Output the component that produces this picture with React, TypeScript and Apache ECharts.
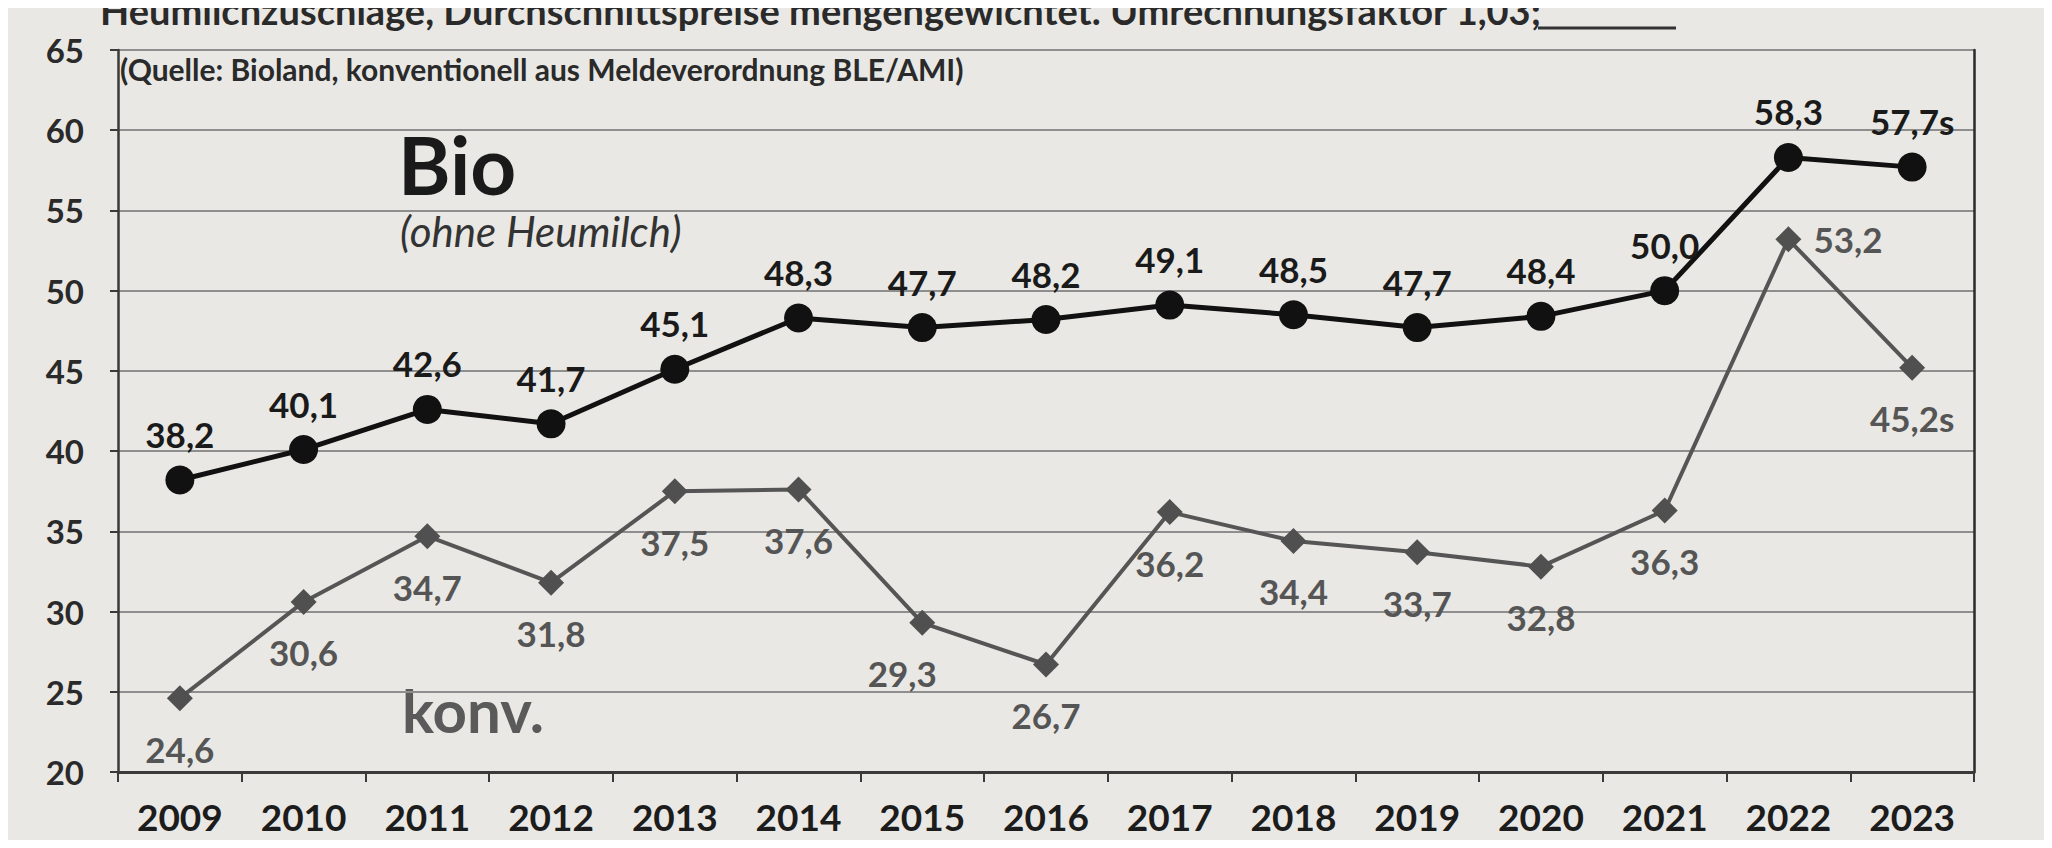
import React, { useEffect, useRef } from "react";
import * as echarts from "echarts";

const years = ["2009", "2010", "2011", "2012", "2013", "2014", "2015", "2016", "2017", "2018", "2019", "2020", "2021", "2022", "2023"];
const bioPrices = [38.2, 40.1, 42.6, 41.7, 45.1, 48.3, 47.7, 48.2, 49.1, 48.5, 47.7, 48.4, 50.0, 58.3, 57.7];
const konvPrices = [24.6, 30.6, 34.7, 31.8, 37.5, 37.6, 29.3, 26.7, 36.2, 34.4, 33.7, 32.8, 36.3, 53.2, 45.2];
const estimated = [false, false, false, false, false, false, false, false, false, false, false, false, false, false, true];
const yMin = 20;
const yMax = 65;
const yStep = 5;

const headText = "Heumilchzuschläge, Durchschnittspreise mengengewichtet. Umrechnungsfaktor 1,03;";
const sourceText = "(Quelle: Bioland, konventionell aus Meldeverordnung BLE/AMI)";

const FONT = "Lato, 'Open Sans', sans-serif";

const fmt = (v: number, i: number) => v.toFixed(1).replace(".", ",") + (estimated[i] ? "s" : "");

export default function App() {
  const ref = useRef<HTMLDivElement>(null);
  useEffect(() => {
    if (!ref.current) return;
    const chart = echarts.init(ref.current, null, { renderer: "svg" });
    const konvData = konvPrices.map((v, i) => {
      if (i === 13) return { value: v, label: { position: "right", distance: 12 } };
      if (i === 6) return { value: v, label: { offset: [-20, 0] } };
      return v;
    });
    chart.setOption({
      animation: false,
      backgroundColor: "#e9e8e4",
      textStyle: { fontFamily: FONT },
      grid: { left: 110, right: 70, top: 42, bottom: 68, containLabel: false },
      xAxis: {
        type: "category",
        data: years,
        boundaryGap: true,
        axisLine: { show: true, lineStyle: { color: "#3a3a3a", width: 3 } },
        axisTick: { show: true, interval: 0, length: 10, lineStyle: { color: "#3a3a3a", width: 2 } },
        axisLabel: { interval: 0, margin: 26, fontSize: 37, fontWeight: "bold", color: "#1c1c1c", fontFamily: FONT },
        splitLine: { show: false },
      },
      yAxis: [
        {
          type: "value",
          min: yMin,
          max: yMax,
          interval: yStep,
          axisLine: { show: true, lineStyle: { color: "#3a3a3a", width: 2.5 } },
          axisTick: { show: true, length: 8, lineStyle: { color: "#3a3a3a", width: 2 } },
          axisLabel: { margin: 34, fontSize: 33, fontWeight: "bold", color: "#2a2a2a", fontFamily: FONT },
          splitLine: { show: true, lineStyle: { color: "#8e8e8e", width: 2 } },
        },
        {
          type: "value",
          min: yMin,
          max: yMax,
          interval: yStep,
          position: "right",
          axisLine: { show: true, lineStyle: { color: "#2a2a2a", width: 2.5 } },
          axisTick: { show: false },
          axisLabel: { show: false },
          splitLine: { show: false },
        },
      ],
      series: [
        {
          name: "Bio",
          type: "line",
          data: bioPrices,
          symbol: "circle",
          symbolSize: 29,
          lineStyle: { color: "#111", width: 5 },
          itemStyle: { color: "#111" },
          label: {
            show: true,
            position: "top",
            distance: 14,
            fontSize: 35,
            fontWeight: "bold",
            color: "#1a1a1a",
            fontFamily: FONT,
            formatter: (p: any) => fmt(p.value as number, p.dataIndex),
          },
          z: 3,
        },
        {
          name: "konv.",
          type: "line",
          data: konvData,
          symbol: "diamond",
          symbolSize: 26,
          lineStyle: { color: "#555", width: 4 },
          itemStyle: { color: "#505050" },
          label: {
            show: true,
            position: "bottom",
            distance: 20,
            fontSize: 35,
            fontWeight: "bold",
            color: "#555",
            fontFamily: FONT,
            formatter: (p: any) => fmt(typeof p.value === "number" ? p.value : p.data.value, p.dataIndex),
          },
          z: 2,
        },
      ],
      graphic: [
        {
          type: "text",
          left: 92,
          top: -17,
          style: { text: headText, fontSize: 38, fontWeight: "bold", fill: "#2a2a2a", fontFamily: FONT },
        },
        {
          type: "line",
          shape: { x1: 1530, y1: 20, x2: 1668, y2: 20 },
          style: { stroke: "#333", lineWidth: 3 },
        },
        {
          type: "text",
          left: 112,
          top: 46,
          style: { text: sourceText, fontSize: 30, fontWeight: "bold", fill: "#2a2a2a", fontFamily: FONT },
        },
        {
          type: "text",
          left: 390,
          top: 116,
          style: { text: "Bio", fontSize: 80, fontWeight: "bold", fill: "#1a1a1a", fontFamily: FONT },
        },
        {
          type: "text",
          left: 392,
          top: 202,
          style: { text: "(ohne Heumilch)", fontSize: 42, fontStyle: "italic", fill: "#333", fontFamily: FONT },
        },
        {
          type: "text",
          left: 394,
          top: 672,
          style: { text: "konv.", fontSize: 60, fontWeight: "bold", fill: "#5a5a5a", fontFamily: FONT },
        },
      ],
    });
    return () => chart.dispose();
  }, []);
  return <div ref={ref} style={{ width: 2036, height: 832 }} />;
}
